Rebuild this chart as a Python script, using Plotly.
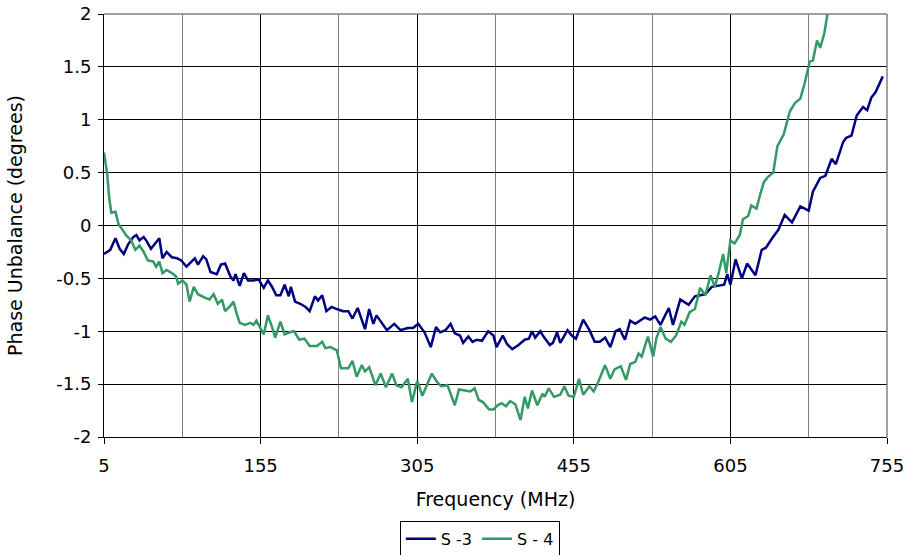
import plotly.graph_objects as go

# S -3 (blue) readings
s3_freq = [5, 11, 16, 20, 24, 28, 33, 36, 39, 43, 46, 50, 54, 58, 61, 65, 70, 75, 79, 84,
           89, 92, 95, 100, 103, 107, 113, 117, 121, 126, 129, 131, 135, 139, 143, 148, 153, 158, 162, 166,
           170, 174, 178, 182, 184, 188, 193, 198, 202, 207, 210, 214, 218, 223, 228, 234, 239, 243, 248, 255,
           259, 263, 266, 271, 276, 283, 289, 296, 301, 306, 312, 318, 323, 327, 332, 337, 341, 346, 349, 354,
           358, 362, 367, 373, 378, 381, 387, 391, 396, 402, 408, 412, 415, 418, 423, 426, 432, 435, 439, 442,
           449, 453, 457, 464, 470, 475, 480, 485, 490, 495, 499, 504, 509, 514, 518, 523, 528, 533, 538, 546,
           550, 557, 565, 571, 576, 581, 587, 592, 599, 602, 605, 610, 616, 621, 629, 635, 639, 645, 651, 657,
           664, 672, 680, 684, 691, 696, 702, 706, 713, 716, 721, 726, 732, 736, 740, 744, 748, 751]
s3_val = [-0.27, -0.23, -0.12, -0.22, -0.27, -0.18, -0.11, -0.09, -0.14, -0.11, -0.15, -0.22, -0.17, -0.12, -0.31, -0.25, -0.30, -0.31, -0.33, -0.39,
          -0.34, -0.31, -0.37, -0.29, -0.32, -0.44, -0.46, -0.37, -0.36, -0.48, -0.52, -0.46, -0.57, -0.45, -0.52, -0.52, -0.51, -0.59, -0.52, -0.58,
          -0.66, -0.66, -0.56, -0.67, -0.58, -0.72, -0.74, -0.77, -0.81, -0.67, -0.71, -0.66, -0.81, -0.77, -0.79, -0.81, -0.81, -0.88, -0.78, -0.98,
          -0.79, -0.93, -0.85, -0.92, -0.99, -0.93, -0.99, -0.97, -0.97, -0.93, -1.01, -1.15, -0.96, -1.01, -0.99, -0.93, -1.02, -1.04, -1.11, -1.05,
          -1.10, -1.08, -1.09, -1.00, -1.04, -1.15, -1.04, -1.12, -1.17, -1.13, -1.08, -1.07, -1.00, -1.06, -1.00, -1.05, -1.13, -1.11, -1.01, -1.11,
          -0.99, -1.04, -1.07, -0.89, -0.99, -1.10, -1.10, -1.06, -1.15, -1.00, -0.98, -1.08, -0.90, -0.93, -0.90, -0.87, -0.89, -0.86, -0.94, -0.78,
          -0.94, -0.70, -0.75, -0.67, -0.66, -0.65, -0.58, -0.57, -0.56, -0.46, -0.56, -0.32, -0.50, -0.36, -0.47, -0.23, -0.21, -0.12, -0.04, 0.10,
          0.03, 0.18, 0.14, 0.32, 0.45, 0.47, 0.63, 0.58, 0.79, 0.83, 0.85, 1.04, 1.12, 1.09, 1.21, 1.26, 1.35, 1.41]

# S - 4 (green) readings
s4_freq = [5, 8, 10, 12, 16, 19, 22, 26, 31, 35, 39, 43, 47, 52, 55, 58, 61, 65, 70, 74,
           76, 80, 84, 87, 91, 95, 101, 106, 110, 114, 118, 121, 126, 129, 132, 135, 140, 145, 148, 151,
           158, 162, 166, 169, 174, 178, 183, 187, 192, 197, 202, 209, 214, 217, 222, 228, 232, 239, 243, 247,
           252, 255, 259, 265, 270, 275, 281, 285, 290, 296, 300, 305, 310, 319, 324, 328, 334, 337, 341, 345,
           350, 356, 360, 364, 368, 374, 378, 382, 386, 390, 394, 399, 404, 408, 411, 415, 420, 425, 427, 431,
           436, 442, 446, 450, 455, 460, 464, 470, 474, 478, 485, 490, 494, 500, 505, 509, 514, 517, 520, 523,
           526, 531, 534, 538, 543, 548, 553, 558, 561, 566, 571, 576, 581, 586, 590, 594, 598, 601, 605, 609,
           614, 617, 622, 625, 630, 634, 637, 641, 646, 650, 656, 662, 667, 672, 676, 681, 684, 688, 691, 695,
           698, 701]
s4_val = [0.69, 0.49, 0.26, 0.12, 0.13, 0.01, -0.03, -0.09, -0.14, -0.23, -0.19, -0.25, -0.33, -0.34, -0.39, -0.34, -0.45, -0.42, -0.45, -0.48,
          -0.55, -0.52, -0.56, -0.72, -0.58, -0.65, -0.68, -0.70, -0.65, -0.74, -0.70, -0.81, -0.76, -0.72, -0.83, -0.92, -0.94, -0.92, -0.94, -0.90,
          -1.03, -0.85, -0.96, -1.06, -0.91, -1.03, -1.01, -1.00, -1.08, -1.07, -1.14, -1.14, -1.10, -1.16, -1.15, -1.18, -1.35, -1.35, -1.28, -1.43,
          -1.32, -1.38, -1.34, -1.51, -1.40, -1.53, -1.40, -1.51, -1.53, -1.45, -1.67, -1.47, -1.61, -1.40, -1.48, -1.52, -1.51, -1.59, -1.70, -1.55,
          -1.56, -1.57, -1.54, -1.65, -1.67, -1.74, -1.74, -1.70, -1.68, -1.71, -1.66, -1.69, -1.84, -1.62, -1.73, -1.56, -1.70, -1.59, -1.62, -1.54,
          -1.62, -1.60, -1.52, -1.61, -1.62, -1.45, -1.60, -1.52, -1.57, -1.49, -1.32, -1.45, -1.36, -1.33, -1.46, -1.31, -1.29, -1.21, -1.24, -1.15,
          -1.05, -1.24, -1.07, -0.96, -1.07, -1.10, -1.04, -0.91, -0.94, -0.82, -0.79, -0.59, -0.66, -0.47, -0.58, -0.44, -0.27, -0.45, -0.14, -0.17,
          -0.09, 0.06, 0.09, 0.19, 0.16, 0.31, 0.41, 0.46, 0.50, 0.75, 0.86, 1.08, 1.16, 1.20, 1.34, 1.55, 1.56, 1.75, 1.68, 1.82,
          2.00, 2.10]

x_ticks = [5, 155, 305, 455, 605, 755]
y_ticks = [-2, -1.5, -1, -0.5, 0, 0.5, 1, 1.5, 2]
y_labels = ["-2", "-1.5", "-1", "-0.5", "0", "0.5", "1", "1.5", "2"]

FONT = "DejaVu Sans"
FS = 18
FT = 19

fig = go.Figure()
fig.add_trace(go.Scatter(x=s3_freq, y=s3_val, mode="lines", name="S -3",
                         line=dict(color="#000080", width=2.5)))
fig.add_trace(go.Scatter(x=s4_freq, y=s4_val, mode="lines", name="S - 4",
                         line=dict(color="#339966", width=2.5)))

fig.update_layout(
    width=908, height=555,
    margin=dict(l=104, r=21, t=14, b=118, autoexpand=False),
    paper_bgcolor="white", plot_bgcolor="white",
    font=dict(family=FONT, size=FS, color="black"),
    showlegend=True,
    legend=dict(orientation="h", x=0.48, xanchor="center", y=-0.198, yanchor="top",
                bordercolor="black", borderwidth=1, itemwidth=30,
                font=dict(family=FONT, size=16), tracegroupgap=0),
    xaxis=dict(range=[5, 755], tickmode="array", tickvals=x_ticks,
               ticktext=[str(v) for v in x_ticks],
               showgrid=True, gridcolor="black", gridwidth=1,
               minor=dict(dtick=75, tick0=5, showgrid=True, gridcolor="#808080", gridwidth=1),
               ticks="outside", ticklen=6, tickcolor="black",
               ticklabelstandoff=6, ticklabeloverflow="allow",
               showline=True, linecolor="black", linewidth=1,
               zeroline=False, automargin=False,
               title=dict(text="Frequency (MHz)", standoff=18, font=dict(size=FT))),
    yaxis=dict(range=[-2, 2], tickmode="array", tickvals=y_ticks, ticktext=y_labels,
               showgrid=True, gridcolor="black", gridwidth=1,
               ticks="outside", ticklen=5, tickcolor="black",
               ticklabelstandoff=3, ticklabeloverflow="allow",
               showline=True, linecolor="black", linewidth=1,
               zeroline=False, automargin=False,
               title=dict(text="Phase Unbalance (degrees)", standoff=28, font=dict(size=FT))),
)

# gray border on top and right of the plot area
fig.add_shape(type="line", xref="paper", yref="paper", x0=0, x1=1, y0=1, y1=1,
              line=dict(color="#808080", width=1.5))
fig.add_shape(type="line", xref="paper", yref="paper", x0=1, x1=1, y0=0, y1=1,
              line=dict(color="#808080", width=1.5))

fig.write_html("out.html", config={"displayModeBar": False},
               post_script="document.body.style.margin='0';document.body.style.overflow='hidden';")
